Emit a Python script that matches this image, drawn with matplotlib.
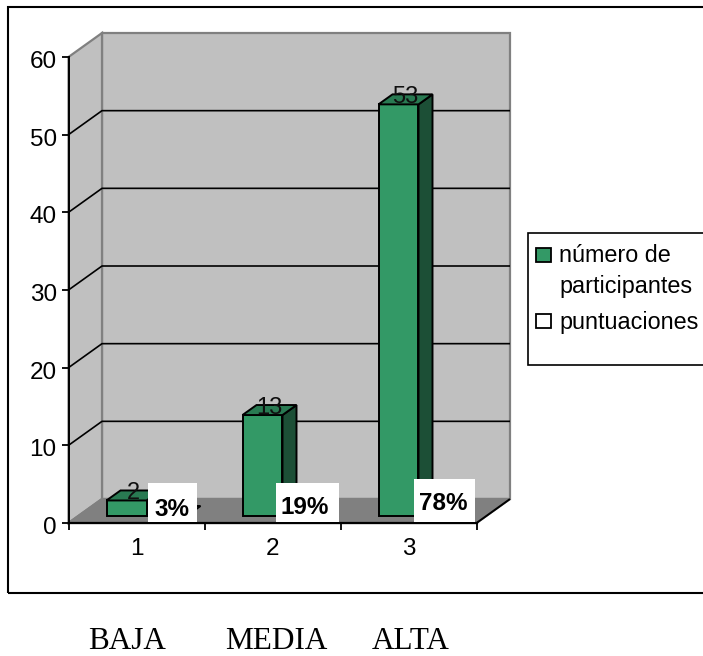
import matplotlib
matplotlib.use('Agg')
import matplotlib.pyplot as plt
from matplotlib.patches import Polygon, Rectangle
from matplotlib.transforms import ScaledTranslation

W, H = 703, 656

categorias = ['1', '2', '3']
participantes = [2, 13, 53]
puntuaciones = [0, 0, 0]
porcentajes = ['3%', '19%', '78%']
niveles = ['BAJA', 'MEDIA', 'ALTA']
marcas_y = [0, 10, 20, 30, 40, 50, 60]

VERDE = '#339966'
VERDE_TAPA = '#297A52'
VERDE_LADO = '#1C4F36'
PARED = '#C0C0C0'
SUELO = '#808080'

plt.rcParams['font.family'] = 'Liberation Sans'

fig = plt.figure(figsize=(W / 100, H / 100), dpi=100)
ax = fig.add_axes([68.5 / W, (H - 523) / H, 408 / W, 466 / H])
ax.set_xlim(0.5, 3.5)
ax.set_ylim(0, 60)
ax.patch.set_visible(False)

# unidades de datos por pixel, para dar profundidad al grafico
ux = 3 / 408
uy = 60 / 466
fondo_x = 33.5 * ux
fondo_y = 24 * uy
barra_x = 14 * ux
barra_y = 10 * uy
ancho = 40 * ux
frente_x = -30 * ux
frente_y = 7 * uy


def poly(puntos, color, borde, lw=1.4, z=1):
    ax.add_patch(Polygon(puntos, closed=True, facecolor=color, edgecolor=borde,
                         linewidth=lw, zorder=z, clip_on=False, joinstyle='miter'))


def linea(xs, ys, color='black', lw=1.2, z=2):
    ax.plot(xs, ys, color=color, lw=lw, zorder=z, clip_on=False,
            solid_capstyle='butt')


def barra(x0, valor, cara, tapa, lado, z):
    x1 = x0 + ancho
    y0 = frente_y
    y1 = valor + frente_y
    if valor > 0:
        poly([(x1, y0), (x1 + barra_x, y0 + barra_y), (x1 + barra_x, y1 + barra_y), (x1, y1)],
             lado, 'black', z=z)
        poly([(x0, y0), (x1, y0), (x1, y1), (x0, y1)], cara, 'black', z=z)
    poly([(x0, y1), (x1, y1), (x1 + barra_x, y1 + barra_y), (x0 + barra_x, y1 + barra_y)],
         tapa, 'black', z=z)


# paredes y suelo
poly([(0.5 + fondo_x, fondo_y), (3.5 + fondo_x, fondo_y), (3.5 + fondo_x, 60 + fondo_y),
      (0.5 + fondo_x, 60 + fondo_y)], PARED, SUELO, lw=1.6)
poly([(0.5, 0), (0.5 + fondo_x, fondo_y), (0.5 + fondo_x, 60 + fondo_y), (0.5, 60)],
     PARED, SUELO, lw=1.6)
poly([(0.5, 0), (3.5, 0), (3.5 + fondo_x, fondo_y), (0.5 + fondo_x, fondo_y)],
     SUELO, SUELO, lw=1.6)
linea([3.5, 3.5 + fondo_x], [0, fondo_y], lw=1.4)

# lineas de division
for v in marcas_y[1:-1]:
    linea([0.5, 0.5 + fondo_x, 3.5 + fondo_x], [v, v + fondo_y, v + fondo_y])

# barras: la serie vacia queda a la derecha de cada barra verde
for i, cat in enumerate(categorias):
    x0 = i + 1 + frente_x
    barra(x0 + ancho, puntuaciones[i], 'white', 'white', 'white', 3)
    barra(x0, participantes[i], VERDE, VERDE_TAPA, VERDE_LADO, 4)
    ax.text(x0 + ancho / 2 + 7 * ux, participantes[i] + frente_y + 7.5 * uy,
            str(participantes[i]), ha='center', va='center', fontsize=17,
            color='#101010', zorder=5)

# recuadros con los porcentajes
cajas = [(148, 197, 483, 522), (276, 339, 483, 522), (414, 475, 479, 522)]
centros = [(172, 509), (305, 508), (443.5, 504)]
for caja, centro, texto in zip(cajas, centros, porcentajes):
    fig.add_artist(Rectangle((caja[0] / W, 1 - caja[3] / H), (caja[1] - caja[0]) / W,
                             (caja[3] - caja[2]) / H, transform=fig.transFigure,
                             facecolor='white', edgecolor='none', zorder=6))
    fig.text(centro[0] / W, 1 - centro[1] / H, texto, ha='center', va='center',
             fontsize=17.5, fontweight='bold', color='black', zorder=7)

# ejes
ax.spines['top'].set_visible(False)
ax.spines['right'].set_visible(False)
ax.spines['left'].set_linewidth(1.4)
ax.spines['bottom'].set_linewidth(1.6)
ax.spines['left'].set_zorder(8)
ax.spines['bottom'].set_zorder(8)
ax.set_yticks(marcas_y)
ax.tick_params(axis='y', length=5, width=1.3, labelsize=17.5, pad=3.5)
bajar = ScaledTranslation(0, -2.5 / 100, fig.dpi_scale_trans)
for etiqueta in ax.get_yticklabels():
    etiqueta.set_transform(etiqueta.get_transform() + bajar)
ax.set_xticks([0.5, 1.5, 2.5, 3.5])
ax.set_xticklabels([])
ax.tick_params(axis='x', which='major', length=5, width=1.3)
ax.set_xticks([1, 2, 3], minor=True)
ax.set_xticklabels(categorias, minor=True, fontsize=17.5)
ax.tick_params(axis='x', which='minor', length=0, pad=10.5)

# marco exterior y caja de la leyenda
fig.add_artist(Rectangle((8 / W, 1 - 593 / H), 720 / W, 586 / H, transform=fig.transFigure,
                         facecolor='none', edgecolor='black', linewidth=1.5, zorder=0))
fig.add_artist(Rectangle((528 / W, 1 - 365 / H), 200 / W, 132 / H, transform=fig.transFigure,
                         facecolor='white', edgecolor='black', linewidth=1.2, zorder=1))

# leyenda
for color, y_caja in [(VERDE, 255), ('white', 321)]:
    fig.add_artist(Rectangle((536 / W, 1 - (y_caja + 7) / H), 15 / W, 14 / H,
                             transform=fig.transFigure, facecolor=color,
                             edgecolor='black', linewidth=1.3, zorder=2))
fig.text(559 / W, 1 - 293 / H, 'número de\nparticipantes', ha='left', va='baseline',
         fontsize=16.8, linespacing=1.44, zorder=2)
fig.text(559 / W, 1 - 329 / H, 'puntuaciones', ha='left', va='baseline', fontsize=16.8, zorder=2)

# niveles debajo del grafico
for x, nombre in zip([127.5, 276, 410.5], niveles):
    fig.text(x / W, 1 - 649 / H, nombre, ha='center', va='baseline', fontsize=22.5,
             family='Liberation Serif', color='black')

fig.savefig('out.png', dpi=100)
